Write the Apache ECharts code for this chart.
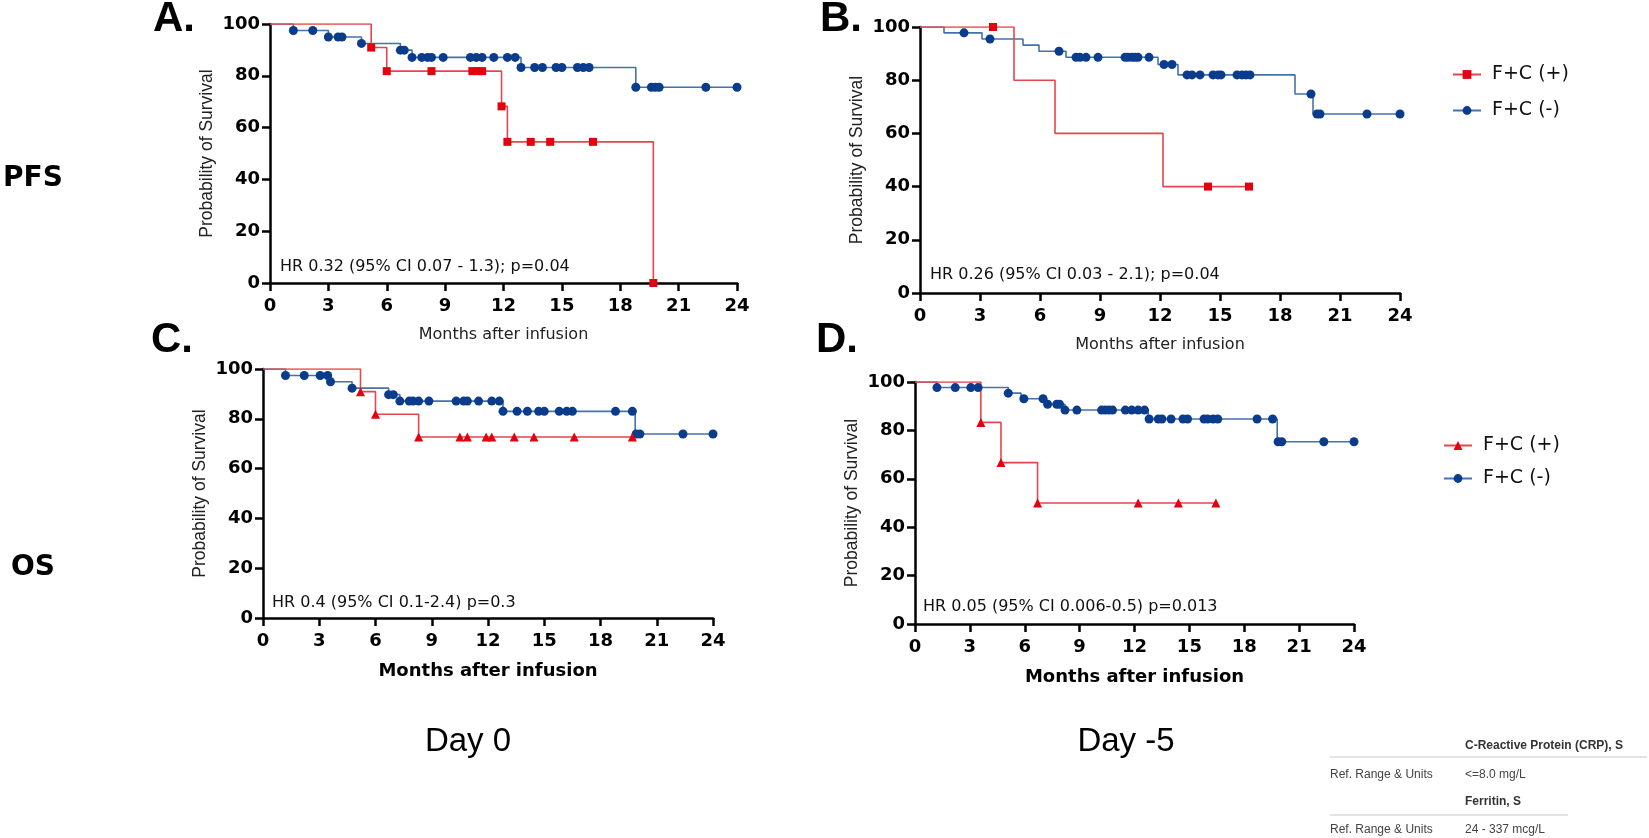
<!DOCTYPE html>
<html>
<head>
<meta charset="utf-8">
<script src="https://cdn.jsdelivr.net/npm/echarts@6/dist/echarts.min.js"></script>
<style>
  html, body { margin: 0; padding: 0; background: #fff; }
  #chart { width: 1649px; height: 838px; }
</style>
</head>
<body>
<div id="chart"></div>
<script>
// x axis ticks (months)
const monthTicks = [0, 3, 6, 9, 12, 15, 18, 21, 24];

// A. PFS, Day 0
const aPosTime = [0, 5.2, 6.0, 11.9, 12.2, 19.7];
const aPosSurv = [100, 90.9, 81.8, 68.2, 54.5, 0];
const aPosCens = [5.2, 6.0, 8.3, 10.4, 10.7, 10.9, 11.9, 12.2, 13.4, 14.4, 16.6, 19.7];
const aNegTime = [0, 1.2, 3.0, 4.7, 6.7, 7.3, 12.9, 18.8, 24];
const aNegSurv = [100, 97.5, 95.0, 92.5, 89.9, 87.1, 83.2, 75.6, 75.6];
const aNegCens = [1.2, 2.2, 3.0, 3.5, 3.7, 4.7, 6.7, 6.9, 7.3, 7.8, 8.1, 8.3, 8.9, 10.3, 10.6, 10.9, 11.5, 12.2, 12.6,
  12.9, 13.6, 14.0, 14.7, 15.0, 15.8, 16.1, 16.4, 18.8, 19.6, 19.8, 20.0, 22.4, 24.0];

// B. PFS, Day -5
const bPosTime = [0, 4.7, 6.75, 12.15, 16.45];
const bPosSurv = [100, 80, 60, 40, 40];
const bPosCens = [3.65, 14.4, 16.45];
const bNegTime = [0, 1.2, 3.1, 5.15, 5.95, 7.3, 11.9, 12.9, 18.75, 19.65, 24];
const bNegSurv = [100, 97.8, 95.5, 93.2, 90.9, 88.6, 85.9, 82.0, 74.8, 67.3, 67.3];
const bNegCens = [2.2, 3.5, 6.95, 7.8, 8.0, 8.3, 8.9, 10.25, 10.4, 10.6, 10.75, 10.9, 11.45, 12.2, 12.6, 13.35, 13.6,
  14.0, 14.65, 14.9, 15.05, 15.85, 16.1, 16.3, 16.5, 19.55, 19.85, 20.0, 22.35, 24.0];

// C. OS, Day 0
const cPosTime = [0, 5.2, 6.0, 8.3, 19.7];
const cPosSurv = [100, 90.9, 81.8, 72.7, 72.7];
const cPosCens = [5.2, 6.0, 8.3, 10.5, 10.9, 11.9, 12.2, 13.4, 14.45, 16.6, 19.7];
const cNegTime = [0, 1.2, 3.6, 4.75, 6.7, 7.3, 12.8, 19.85, 24];
const cNegSurv = [100, 97.4, 94.9, 92.3, 89.7, 87.1, 83.0, 73.9, 73.9];
const cNegCens = [1.2, 2.2, 3.05, 3.45, 3.6, 4.75, 6.7, 6.95, 7.3, 7.8, 8.0, 8.3, 8.85, 10.3, 10.7, 10.9, 11.5, 12.2,
  12.6, 12.8, 13.55, 14.1, 14.7, 15.0, 15.8, 16.2, 16.5, 18.8, 19.7, 19.9, 20.1, 22.4, 24.0];

// D. OS, Day -5
const dPosTime = [0, 3.6, 4.7, 6.7, 16.45];
const dPosSurv = [100, 83.3, 66.7, 50, 50];
const dPosCens = [3.6, 4.7, 6.7, 12.2, 14.4, 16.45];
const dNegTime = [0, 1.2, 5.1, 5.8, 7.2, 8.2, 12.75, 19.8, 24];
const dNegSurv = [100, 97.7, 95.4, 93.1, 90.8, 88.4, 84.7, 75.3, 75.3];
const dNegCens = [1.2, 2.2, 3.05, 3.45, 5.1, 5.95, 7.0, 7.25, 7.75, 7.9, 8.2, 8.85, 10.2, 10.4, 10.6, 10.8, 11.5,
  11.85, 12.2, 12.55, 12.8, 13.3, 13.5, 14.0, 14.65, 14.9, 15.8, 16.0, 16.3, 16.55, 18.7, 19.55, 19.85, 20.05,
  22.35, 24.0];

const hrTexts = [
  'HR 0.32 (95% CI 0.07 - 1.3); p=0.04',
  'HR 0.26 (95% CI 0.03 - 2.1); p=0.04',
  'HR 0.4 (95% CI 0.1-2.4) p=0.3',
  'HR 0.05 (95% CI 0.006-0.5) p=0.013'
];

const FONT = '"Liberation Sans", Arial, sans-serif';
const WIDE = '"DejaVu Sans", Verdana, sans-serif';   // the figure's text is a bit stretched sideways
const RED_LINE = '#e4464b';
const RED_MARK = '#e3000f';
const BLUE_LINE = '#4571ad';
const BLUE_MARK = '#0b3c8c';

const chart = echarts.init(document.getElementById('chart'));

// survival level of a step curve at time t
function levelAt(times, surv, t) {
  let v = surv[0];
  for (let i = 0; i < times.length; i++) {
    if (times[i] <= t + 1e-9) v = surv[i];
  }
  return v;
}

const grids = [
  {left: 270, top: 24, width: 467, height: 259},
  {left: 920, top: 27, width: 480, height: 266},
  {left: 263, top: 369, width: 450, height: 249},
  {left: 915, top: 382, width: 439, height: 242}
];

function xAxisFor(i, boldName) {
  return {
    gridIndex: i, type: 'value', min: 0, max: 24, interval: 3,
    axisLine: {onZero: false, lineStyle: {color: '#000', width: 2.5}},
    axisTick: {length: 8, lineStyle: {color: '#000', width: 2.5}},
    axisLabel: {color: '#000', fontFamily: WIDE, fontWeight: 'bold', fontSize: 18, margin: 14,
      customValues: monthTicks},
    splitLine: {show: false},
    name: 'Months after infusion', nameLocation: 'middle',
    nameGap: 44,
    nameTextStyle: boldName
      ? {color: '#000', fontFamily: WIDE, fontWeight: 'bold', fontSize: 18}
      : {color: '#222', fontFamily: WIDE, fontSize: 16}
  };
}

function yAxisFor(i) {
  return {
    gridIndex: i, type: 'value', min: 0, max: 100, interval: 20,
    axisLine: {show: true, lineStyle: {color: '#000', width: 2.5}},
    axisTick: {show: true, length: 8, lineStyle: {color: '#000', width: 2.5}},
    axisLabel: {color: '#000', fontFamily: WIDE, fontWeight: 'bold', fontSize: 18, margin: 10},
    splitLine: {show: false},
    name: 'Probability of Survival', nameLocation: 'middle', nameGap: 54,
    nameTextStyle: {color: '#222', fontFamily: FONT, fontSize: 17.5}
  };
}

function curve(name, i, times, surv, lineColor, markColor, symbol) {
  return {
    name: name, type: 'line', step: 'end', xAxisIndex: i, yAxisIndex: i,
    data: times.map((t, k) => [t, surv[k]]),
    showSymbol: false, symbol: symbol, symbolSize: 9,
    lineStyle: {color: lineColor, width: 1.6},
    itemStyle: {color: markColor},
    silent: true, z: 2
  };
}

function marks(name, i, times, surv, cens, color, symbol, size) {
  return {
    name: name, type: 'scatter', xAxisIndex: i, yAxisIndex: i,
    data: cens.map(t => [t, levelAt(times, surv, t)]),
    symbol: symbol, symbolSize: size,
    itemStyle: {color: color, opacity: 1},
    silent: true, z: 3
  };
}

const panels = [
  {key: 'A', pos: [aPosTime, aPosSurv, aPosCens], neg: [aNegTime, aNegSurv, aNegCens], sym: 'rect'},
  {key: 'B', pos: [bPosTime, bPosSurv, bPosCens], neg: [bNegTime, bNegSurv, bNegCens], sym: 'rect'},
  {key: 'C', pos: [cPosTime, cPosSurv, cPosCens], neg: [cNegTime, cNegSurv, cNegCens], sym: 'triangle'},
  {key: 'D', pos: [dPosTime, dPosSurv, dPosCens], neg: [dNegTime, dNegSurv, dNegCens], sym: 'triangle'}
];

const series = [];
panels.forEach((p, i) => {
  const posName = p.key + '|F+C (+)';
  const negName = p.key + '|F+C (-)';
  series.push(curve(negName, i, p.neg[0], p.neg[1], BLUE_LINE, BLUE_MARK, 'circle'));
  series.push(marks(negName, i, p.neg[0], p.neg[1], p.neg[2], BLUE_MARK, 'circle', 9));
  series.push(curve(posName, i, p.pos[0], p.pos[1], RED_LINE, RED_MARK, p.sym));
  series.push(marks(posName, i, p.pos[0], p.pos[1], p.pos[2], RED_MARK, p.sym, p.sym === 'rect' ? 8 : 9));
});

function legendFor(key, left, top, gap) {
  return {
    orient: 'vertical', left: left, top: top, itemGap: gap,
    itemWidth: 28, itemHeight: 11,
    data: [key + '|F+C (+)', key + '|F+C (-)'],
    formatter: n => n.split('|')[1],
    textStyle: {color: '#111', fontFamily: WIDE, fontSize: 19, padding: [0, 0, 0, 6]},
    selectedMode: false
  };
}

function txt(x, y, text, size, weight, align, color, family) {
  return {
    type: 'text', x: x, y: y,
    style: {text: text, fontFamily: family || FONT, fontSize: size, fontWeight: weight || 'normal',
      fill: color || '#000', textAlign: align || 'left', textVerticalAlign: 'middle'}
  };
}

function rule(x1, x2, y) {
  return {type: 'line', shape: {x1: x1, y1: y, x2: x2, y2: y}, style: {stroke: '#c8c8c8', lineWidth: 1}};
}

const graphics = [
  txt(153, 19, 'A.', 42, 'bold'),
  txt(820, 19, 'B.', 42, 'bold'),
  txt(151, 340, 'C.', 42, 'bold'),
  txt(816, 340, 'D.', 42, 'bold'),
  txt(33, 179, 'PFS', 28, 'bold', 'center', '#000', WIDE),
  txt(33, 568, 'OS', 28, 'bold', 'center', '#000', WIDE),
  txt(280, 267, hrTexts[0], 16, 'normal', 'left', '#111', WIDE),
  txt(930, 275, hrTexts[1], 16, 'normal', 'left', '#111', WIDE),
  txt(272, 603, hrTexts[2], 16, 'normal', 'left', '#111', WIDE),
  txt(923, 607, hrTexts[3], 16, 'normal', 'left', '#111', WIDE),
  txt(468, 742, 'Day 0', 33, 'normal', 'center'),
  txt(1126, 742, 'Day -5', 33, 'normal', 'center'),
  txt(1465, 746, 'C-Reactive Protein (CRP), S', 12, 'bold', 'left', '#333'),
  rule(1330, 1647, 757),
  txt(1330, 775, 'Ref. Range & Units', 12, 'normal', 'left', '#444'),
  txt(1465, 775, '<=8.0 mg/L', 12, 'normal', 'left', '#444'),
  txt(1465, 802, 'Ferritin, S', 12, 'bold', 'left', '#333'),
  rule(1330, 1568, 815),
  txt(1330, 830, 'Ref. Range & Units', 12, 'normal', 'left', '#444'),
  txt(1465, 830, '24 - 337 mcg/L', 12, 'normal', 'left', '#444')
];

const option = {
  animation: false,
  backgroundColor: '#fff',
  grid: grids,
  xAxis: [xAxisFor(0, false), xAxisFor(1, false), xAxisFor(2, true), xAxisFor(3, true)],
  yAxis: [yAxisFor(0), yAxisFor(1), yAxisFor(2), yAxisFor(3)],
  legend: [legendFor('B', 1447, 60, 17), legendFor('D', 1438, 431, 14)],
  series: series,
  graphic: graphics
};

option && chart.setOption(option);
</script>
</body>
</html>
